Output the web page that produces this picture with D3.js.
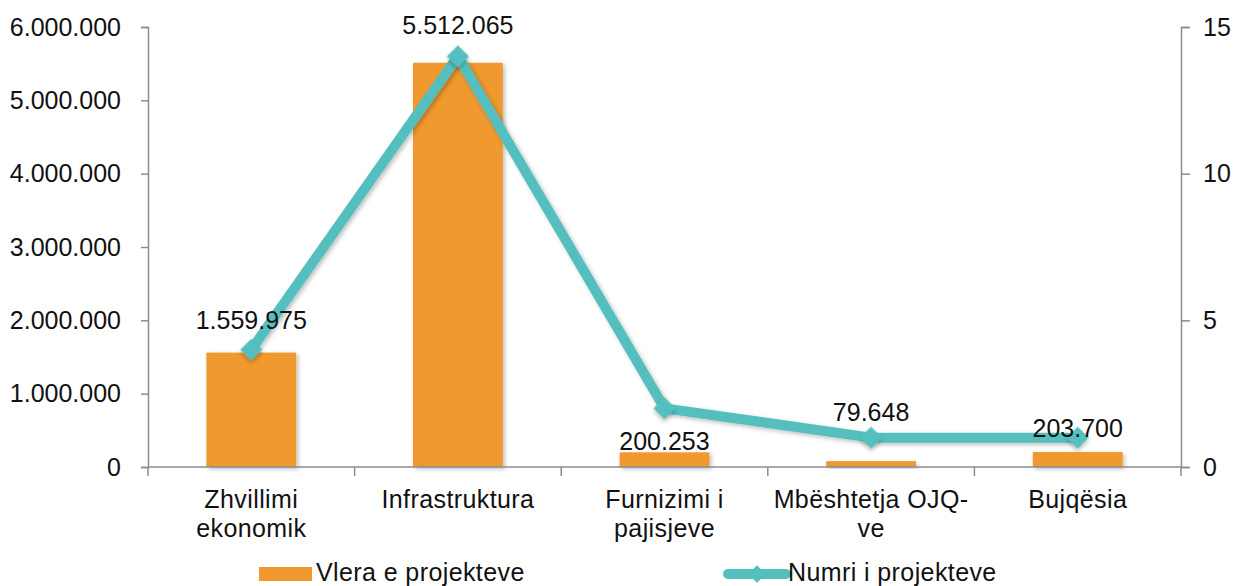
<!DOCTYPE html>
<html>
<head>
<meta charset="utf-8">
<script src="https://cdn.jsdelivr.net/npm/d3@7"></script>
<style>
  body { margin: 0; background: #fff; }
  text { font-family: "Liberation Sans", Arial, sans-serif; fill: #111; }
</style>
</head>
<body>
<svg id="chart" width="1237" height="586"></svg>
<script>
// data
const categories = [["Zhvillimi", "ekonomik"], ["Infrastruktura"], ["Furnizimi  i", "pajisjeve"], ["Mbështetja OJQ-", "ve"], ["Bujqësia"]]
const vlera = [1559975, 5512065, 200253, 79648, 203700]   // Vlera e projekteve
const numri = [4, 14, 2, 1, 1]                           // Numri i projekteve
const leftTicks = [0, 1000000, 2000000, 3000000, 4000000, 5000000, 6000000]
const rightTicks = [0, 5, 10, 15]

const W = 1237, H = 586
const marge = { top: 27, right: 56, bottom: 119, left: 148 }
const innerW = W - marge.left - marge.right
const innerH = H - marge.top - marge.bottom

const orange = '#F0992E'
const teal = '#55BFBF'
const axisGray = '#8c8c8c'
const fs = '25px'

const svg = d3.select('#chart')

// soft shadow like the office chart
const defs = svg.append('defs')
const f = defs.append('filter').attr('id', 'shadow').attr('x', '-30%').attr('y', '-30%').attr('width', '160%').attr('height', '160%')
f.append('feDropShadow').attr('dx', 2).attr('dy', 2).attr('stdDeviation', 2).attr('flood-color', '#000').attr('flood-opacity', 0.25)

const g = svg.append('g').attr('transform', `translate(${marge.left},${marge.top})`)

const idx = d3.range(categories.length)
const x = d3.scaleBand().domain(idx).range([0, innerW]).paddingInner(0.565).paddingOuter(0.2825)
const xCat = d3.scaleBand().domain(idx).range([0, innerW])
const yL = d3.scaleLinear().domain([0, 6000000]).range([innerH, 0])
const yR = d3.scaleLinear().domain([0, 15]).range([innerH, 0])

const fmt = v => d3.format(',')(v).replace(/,/g, '.')

// bars
g.selectAll('rect.bar')
  .data(vlera)
  .enter()
  .append('rect')
  .attr('class', 'bar')
  .attr('x', (d, i) => x(i))
  .attr('y', d => yL(d))
  .attr('width', x.bandwidth())
  .attr('height', d => innerH - yL(d))
  .attr('fill', orange)
  .attr('filter', 'url(#shadow)')

// axes
const axisL = d3.axisLeft(yL).tickValues(leftTicks).tickSize(7).tickPadding(20).tickFormat(fmt)
const axisR = d3.axisRight(yR).tickValues(rightTicks).tickSize(9).tickPadding(13)

function styleAxis(sel) {
  sel.select('.domain').attr('stroke', axisGray).attr('stroke-width', 1.5)
  sel.selectAll('.tick line').attr('stroke', axisGray).attr('stroke-width', 1.5)
  sel.selectAll('.tick text').style('font-size', fs).attr('fill', '#111')
}

g.append('g').call(axisL).call(styleAxis)
g.append('g').attr('transform', `translate(${innerW},0)`).call(axisR).call(styleAxis)

// bottom axis: line + ticks at category edges
const bottom = g.append('g').attr('transform', `translate(0,${innerH})`)
bottom.append('line').attr('x1', 0).attr('x2', innerW).attr('stroke', axisGray).attr('stroke-width', 1.5)
bottom.selectAll('line.tk')
  .data(d3.range(categories.length + 1))
  .enter()
  .append('line')
  .attr('class', 'tk')
  .attr('x1', i => i * xCat.step())
  .attr('x2', i => i * xCat.step())
  .attr('y1', 0).attr('y2', 9)
  .attr('stroke', axisGray).attr('stroke-width', 1.5)

const catText = bottom.selectAll('text.cat')
  .data(categories)
  .enter()
  .append('text')
  .attr('class', 'cat')
  .attr('text-anchor', 'middle')
  .style('font-size', fs)
  .style('letter-spacing', '0.4px')
  .attr('transform', (d, i) => `translate(${xCat(i) + xCat.bandwidth() / 2},41)`)
catText.selectAll('tspan')
  .data(d => d)
  .enter()
  .append('tspan')
  .attr('x', 0)
  .attr('dy', (d, j) => j === 0 ? 0 : 29)
  .text(d => d)

// line series
const line = d3.line()
  .x((d, i) => xCat(i) + xCat.bandwidth() / 2)
  .y(d => yR(d))

g.append('path')
  .datum(numri)
  .attr('d', line)
  .attr('fill', 'none')
  .attr('stroke', teal)
  .attr('stroke-width', 10)
  .attr('stroke-linejoin', 'round')
  .attr('filter', 'url(#shadow)')

g.selectAll('path.mark')
  .data(numri)
  .enter()
  .append('path')
  .attr('class', 'mark')
  .attr('d', d3.symbol(d3.symbolSquare, 240))
  .attr('transform', (d, i) => `translate(${xCat(i) + xCat.bandwidth() / 2},${yR(d)}) rotate(45)`)
  .attr('fill', teal)
  .attr('filter', 'url(#shadow)')

// data labels for the bars (lifted by hand like in the original)
const labelLift = [33, 38, 11, 49, 24]
g.selectAll('text.lbl')
  .data(vlera)
  .enter()
  .append('text')
  .attr('class', 'lbl')
  .attr('text-anchor', 'middle')
  .attr('dominant-baseline', 'central')
  .style('font-size', fs)
  .attr('x', (d, i) => xCat(i) + xCat.bandwidth() / 2)
  .attr('y', (d, i) => yL(d) - labelLift[i])
  .text(fmt)

// legend
const leg = svg.append('g')
const lg1 = leg.append('g').attr('transform', 'translate(259,567)')
lg1.append('rect').attr('width', 53).attr('height', 14).attr('fill', orange)
lg1.append('text').attr('x', 57).attr('y', 14).style('font-size', fs).style('letter-spacing', '0.4px').text('Vlera e projekteve')

const lg2 = leg.append('g').attr('transform', 'translate(728,574)')
lg2.append('line').attr('x1', 0).attr('x2', 58).attr('stroke', teal).attr('stroke-width', 10).attr('stroke-linecap', 'round')
lg2.append('path').attr('d', d3.symbol(d3.symbolSquare, 150)).attr('transform', 'translate(29,0) rotate(45)').attr('fill', teal)
lg2.append('text').attr('x', 60).attr('y', 7).style('font-size', fs).style('letter-spacing', '0.4px').text('Numri i projekteve')
</script>
</body>
</html>
